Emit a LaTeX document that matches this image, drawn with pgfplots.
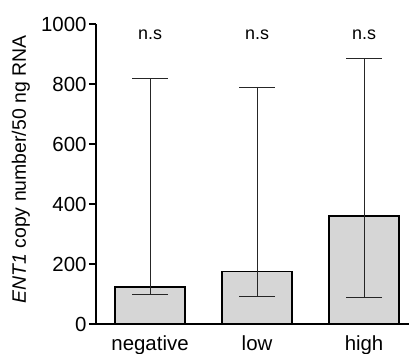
\documentclass[border=0pt]{standalone}
\usepackage{pgfplots}
\pgfplotsset{compat=1.18}
\usepackage{fontspec}
\setmainfont{Liberation Sans}
\definecolor{barfill}{RGB}{214,214,214}
\begin{document}
\begin{tikzpicture}
\begin{axis}[
  name=ax,
  scale only axis,
  width=313bp, height=300bp,
  xmin=-0.505, xmax=2.42,
  ymin=0, ymax=1000,
  axis x line*=bottom, axis y line*=left,
  axis line style={line width=1.3bp, black},
  ytick={0,200,400,600,800,1000},
  xtick={0,1,2},
  xticklabels={negative,low,high},
  x tick style={draw=none},
  y tick style={line width=1.2bp, black},
  tick align=outside,
  major tick length=7bp,
  /pgf/number format/assume math mode=true,
  /pgf/number format/1000 sep={},
  tick label style={font=\fontsize{20.5}{20.5}\selectfont},
  yticklabel style={xshift=1bp},
  xticklabel style={yshift=-1bp},
  ylabel={\textit{ENT1} copy number/50 ng RNA},
  every axis y label/.append style={at={(axis description cs:-0.24,0.515)}, anchor=center},
  ylabel style={font=\fontsize{19.5}{19.5}\selectfont},
  clip=false,
]
\addplot[ybar, bar width=0.654, fill=barfill, draw=black, line width=1.3bp,
  error bars/.cd, y dir=both, y explicit,
  error bar style={line width=0.6bp, black!85},
  error mark options={rotate=90, mark size=18bp, line width=0.9bp, black!85}]
coordinates {
  (0,123) += (0,695) -= (0,23)
  (1,174) += (0,616) -= (0,82)
  (2,360) += (0,526) -= (0,273)
};
\node[font=\fontsize{18}{18}\selectfont] at (axis cs:0,965) {n.s};
\node[font=\fontsize{18}{18}\selectfont] at (axis cs:1,965) {n.s};
\node[font=\fontsize{18}{18}\selectfont] at (axis cs:2,965) {n.s};
\end{axis}
\pgfresetboundingbox
\path[use as bounding box] ([shift={(-96bp,-30bp)}]ax.south west) rectangle ([shift={(313bp,324bp)}]ax.south west);
\end{tikzpicture}
\end{document}
